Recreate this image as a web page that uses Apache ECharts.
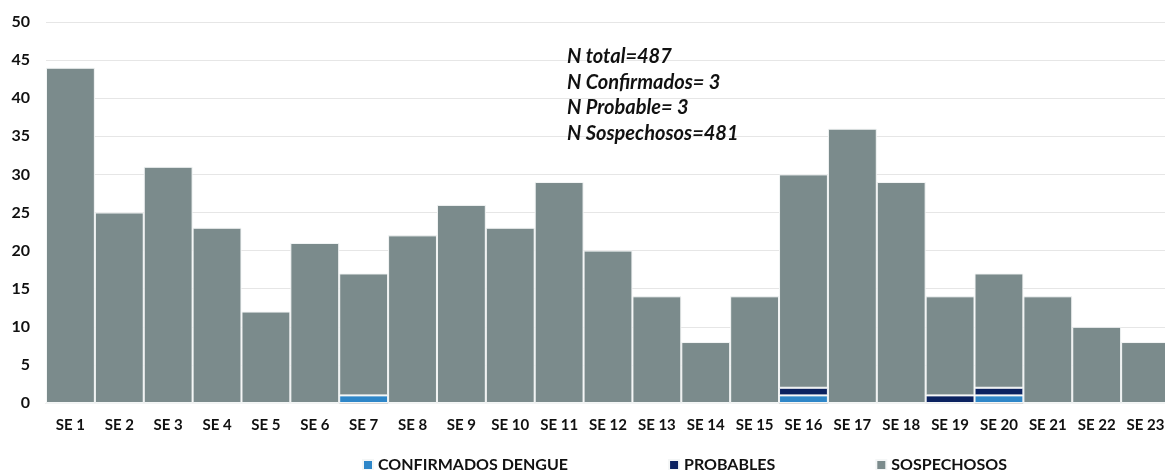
<!DOCTYPE html>
<html>
<head>
<meta charset="utf-8">
<script src="https://cdn.jsdelivr.net/npm/echarts@6/dist/echarts.min.js"></script>
<style>
  html, body { margin: 0; padding: 0; background: #ffffff; }
  #chart { width: 1165px; height: 470px; }
</style>
</head>
<body>
<div id="chart"></div>
<script>
// Epidemiological weeks
const weeks = ['SE 1','SE 2','SE 3','SE 4','SE 5','SE 6','SE 7','SE 8','SE 9','SE 10','SE 11','SE 12',
               'SE 13','SE 14','SE 15','SE 16','SE 17','SE 18','SE 19','SE 20','SE 21','SE 22','SE 23'];
// Cases per week by classification
const confirmados = [0,0,0,0,0,0,1,0,0,0,0,0,0,0,0,1,0,0,0,1,0,0,0];
const probables   = [0,0,0,0,0,0,0,0,0,0,0,0,0,0,0,1,0,0,1,1,0,0,0];
const sospechosos = [44,25,31,23,12,21,16,22,26,23,29,20,14,8,14,28,36,29,13,15,14,10,8];
// Summary lines
const summaryLines = ['N total=487','N Confirmados= 3','N Probable= 3','N Sospechosos=481'];

const FONT = 'Lato, "Open Sans", sans-serif';
const chart = echarts.init(document.getElementById('chart'));

const barStyle = (color) => ({ color: color, borderColor: '#f4f6f6', borderWidth: 1 });

chart.setOption({
  animation: false,
  textStyle: { fontFamily: FONT },
  grid: { left: 46, top: 22, bottom: 67, width: 1124, containLabel: false, outerBoundsMode: 'none' },
  legend: {
    top: 452,
    left: 357,
    itemGap: 100,
    itemWidth: 10,
    itemHeight: 10,
    icon: 'rect',
    textStyle: { fontFamily: FONT, fontWeight: 'bold', fontSize: 16, color: '#111111' },
    data: ['CONFIRMADOS DENGUE','PROBABLES','SOSPECHOSOS']
  },
  xAxis: {
    type: 'category',
    data: weeks,
    axisTick: { show: false },
    axisLine: { show: true, lineStyle: { color: '#d9d9d9' } },
    axisLabel: { fontFamily: FONT, fontWeight: 'bold', fontSize: 15, color: '#111111', margin: 15, interval: 0 }
  },
  yAxis: {
    type: 'value',
    min: 0,
    max: 50,
    interval: 5,
    axisLine: { show: false },
    axisTick: { show: false },
    splitLine: { lineStyle: { color: '#e6e6e6' } },
    axisLabel: { fontFamily: FONT, fontWeight: 'bold', fontSize: 16, color: '#111111', margin: 16 }
  },
  series: [
    { name: 'CONFIRMADOS DENGUE', type: 'bar', stack: 'casos', data: confirmados,
      barCategoryGap: '0%', itemStyle: barStyle('#2e86c8') },
    { name: 'PROBABLES', type: 'bar', stack: 'casos', data: probables,
      barCategoryGap: '0%', itemStyle: barStyle('#0b2260') },
    { name: 'SOSPECHOSOS', type: 'bar', stack: 'casos', data: sospechosos,
      barCategoryGap: '0%', itemStyle: barStyle('#7b8b8c') }
  ],
  graphic: summaryLines.map((t, i) => ({
    type: 'text',
    left: 567,
    top: 47 + i * 25.5,
    z: 100,
    style: { text: t, fontFamily: FONT, fontStyle: 'italic', fontWeight: 'bold', fontSize: 20, fill: '#111111' }
  }))
});
</script>
</body>
</html>
